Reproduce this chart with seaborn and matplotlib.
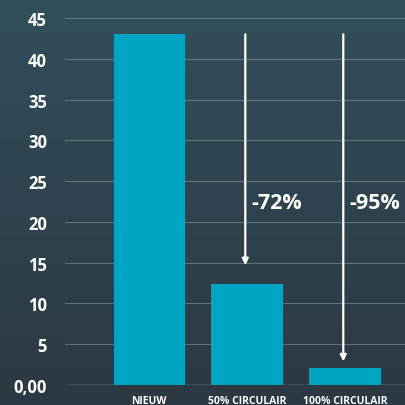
import numpy as np
import pandas as pd
import seaborn as sns
from matplotlib import pyplot as plt

# data
categories = ["NIEUW", "50% CIRCULAIR", "100% CIRCULAIR"]
values = [43.0, 12.4, 2.1]
reductions = ["-72%", "-95%"]
arrow_start = 43.0
arrow_end = [14.7, 2.9]
yticks = [0, 5, 10, 15, 20, 25, 30, 35, 40, 45]
ytick_labels = ["0,00", "5", "10", "15", "20", "25", "30", "35", "40", "45"]

df = pd.DataFrame({"cat": categories, "val": values})

sns.set_style("white")
plt.rcParams['font.family'] = ['Open Sans', 'DejaVu Sans']

fig = plt.figure(figsize=(4.05, 4.06), dpi=100)

# background gradient
bg = fig.add_axes([0, 0, 1, 1], zorder=0)
top = np.array([50, 79, 90]) / 255
bottom = np.array([44, 56, 66]) / 255
t = np.linspace(0, 1, 256)[:, None]
grad = top * (1 - t) + bottom * t
bg.imshow(grad[:, None, :].repeat(2, axis=1), aspect="auto", extent=[0, 1, 0, 1])
bg.axis("off")

ax = fig.add_axes([65 / 405, 20 / 406, 340 / 405, 367 / 406], zorder=1)
ax.patch.set_alpha(0)

sns.barplot(data=df, x="cat", y="val", color="#00a5c4", saturation=1, width=0.73,
            linewidth=0, edgecolor="#00a5c4", ax=ax, zorder=3)

ax.set_xlim(-0.86, 2.61)
ax.set_ylim(0, 45)
ax.set_yticks(yticks)
ax.set_yticklabels(ytick_labels)
for y in yticks[1:]:
    ax.axhline(y, color="#8a9aa2", lw=0.8, alpha=0.55, zorder=1)
ax.axhline(0, color="#8d9aa0", lw=1.0, zorder=2)

for s in ax.spines.values():
    s.set_visible(False)
ax.tick_params(axis="y", length=0, pad=13, labelsize=12, labelcolor="white")
ax.tick_params(axis="x", length=0, pad=7, labelsize=7.5, labelcolor="white")
for lbl in ax.get_yticklabels() + ax.get_xticklabels():
    lbl.set_fontweight("bold")
ax.set_xlabel("")
ax.set_ylabel("")

for i, (lab, yend) in enumerate(zip(reductions, arrow_end)):
    x = i + 1 - 0.02
    ax.annotate("", xy=(x, yend), xytext=(x, arrow_start),
                arrowprops=dict(arrowstyle="-|>", color="white", lw=1.6,
                                mutation_scale=9, shrinkA=0, shrinkB=0), zorder=4)
    ax.text(x + 0.06, 22.4, lab, color="white", fontsize=15.5, fontweight="bold",
            va="center", ha="left", zorder=4)

plt.savefig("out.png", dpi=100)
